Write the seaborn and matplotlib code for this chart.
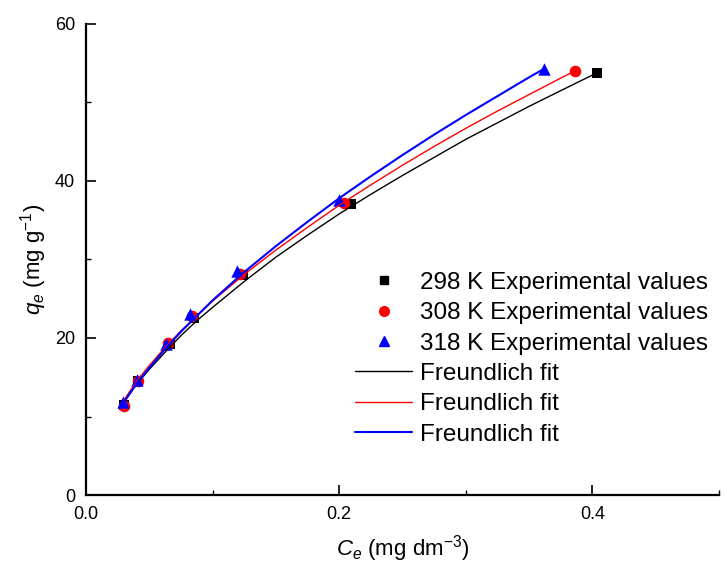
import pandas as pd
import seaborn as sns
import matplotlib.pyplot as plt
from matplotlib.lines import Line2D
from matplotlib.ticker import MultipleLocator

# Experimental points
ce_298 = [0.030, 0.041, 0.066, 0.085, 0.124, 0.209, 0.404]
qe_298 = [11.5, 14.5, 19.2, 22.6, 28.0, 37.1, 53.8]
ce_308 = [0.030, 0.041, 0.065, 0.084, 0.122, 0.204, 0.386]
qe_308 = [11.4, 14.5, 19.3, 22.8, 28.2, 37.2, 54.0]
ce_318 = [0.029, 0.040, 0.063, 0.082, 0.119, 0.200, 0.362]
qe_318 = [11.8, 14.6, 19.2, 23.0, 28.5, 37.6, 54.3]

# Freundlich fit curves
fit_x_298 = [0.030, 0.04, 0.05, 0.0625, 0.075, 0.0875, 0.10, 0.125, 0.15, 0.175,
             0.20, 0.225, 0.25, 0.275, 0.30, 0.325, 0.35, 0.375, 0.404]
fit_y_298 = [11.9, 14.1, 16.0, 18.2, 20.3, 22.2, 23.9, 27.2, 30.3, 33.1,
             35.8, 38.3, 40.7, 43.0, 45.3, 47.4, 49.5, 51.5, 53.8]
fit_x_308 = [0.030, 0.04, 0.05, 0.0625, 0.075, 0.0875, 0.10, 0.125, 0.15, 0.175,
             0.20, 0.225, 0.25, 0.275, 0.30, 0.325, 0.35, 0.375, 0.386]
fit_y_308 = [12.1, 14.5, 16.5, 18.8, 20.9, 22.8, 24.7, 28.1, 31.2, 34.1,
             36.9, 39.5, 42.0, 44.4, 46.7, 48.9, 51.0, 53.1, 54.0]
fit_x_318 = [0.029, 0.04, 0.05, 0.0625, 0.075, 0.0875, 0.10, 0.125, 0.15, 0.175,
             0.20, 0.225, 0.25, 0.275, 0.30, 0.325, 0.35, 0.362]
fit_y_318 = [11.6, 14.2, 16.2, 18.6, 20.8, 22.8, 24.8, 28.4, 31.7, 34.8,
             37.8, 40.6, 43.3, 45.9, 48.4, 50.8, 53.2, 54.3]

sns.set_style('ticks')
plt.rcParams['font.family'] = ['Liberation Sans', 'DejaVu Sans']
plt.rcParams['mathtext.fontset'] = 'custom'
plt.rcParams['mathtext.rm'] = 'Liberation Sans'
plt.rcParams['mathtext.it'] = 'Liberation Sans:italic'
plt.rcParams['text.color'] = 'black'
plt.rcParams['axes.labelcolor'] = 'black'
plt.rcParams['xtick.color'] = 'black'
plt.rcParams['ytick.color'] = 'black'
plt.rcParams['axes.edgecolor'] = 'black'

fig = plt.figure(figsize=(7.27, 5.69), dpi=100)
ax = fig.add_axes([0.1183, 0.130, 0.8707, 0.828])

series = [
    (ce_298, qe_298, fit_x_298, fit_y_298, 'black', 's', 55, 1.0),
    (ce_308, qe_308, fit_x_308, fit_y_308, 'red', 'o', 70, 1.0),
    (ce_318, qe_318, fit_x_318, fit_y_318, 'blue', '^', 80, 1.5),
]
for ce, qe, fx, fy, col, mk, sz, lw in series:
    pts = pd.DataFrame({'Ce': ce, 'qe': qe})
    fit = pd.DataFrame({'Ce': fx, 'qe': fy})
    sns.scatterplot(data=pts, x='Ce', y='qe', color=col, marker=mk, s=sz,
                    edgecolor=col, linewidth=0, ax=ax, legend=False)
    sns.lineplot(data=fit, x='Ce', y='qe', color=col, linewidth=lw,
                 sort=False, estimator=None, ax=ax, legend=False)

ax.set_xlim(0, 0.5)
ax.set_ylim(0, 60)
ax.xaxis.set_major_locator(MultipleLocator(0.2))
ax.xaxis.set_minor_locator(MultipleLocator(0.1))
ax.yaxis.set_major_locator(MultipleLocator(20))
ax.yaxis.set_minor_locator(MultipleLocator(10))
ax.set_xticks([0.0, 0.2, 0.4])
ax.set_xticklabels(['0.0', '0.2', '0.4'])
ax.tick_params(which='major', direction='in', length=7, width=1.2, labelsize=13, pad=8)
ax.tick_params(which='minor', direction='in', length=3.5, width=1.0)
sns.despine(ax=ax)
for sp in ['left', 'bottom']:
    ax.spines[sp].set_linewidth(1.6)

ax.set_xlabel(r'$C_e$ (mg dm$^{-3}$)', fontsize=16, labelpad=7)
ax.set_ylabel(r'$q_e$ (mg g$^{-1}$)', fontsize=16, labelpad=4)

handles = [
    Line2D([], [], color='black', marker='s', linestyle='none', markersize=6),
    Line2D([], [], color='red', marker='o', linestyle='none', markersize=7),
    Line2D([], [], color='blue', marker='^', linestyle='none', markersize=7),
    Line2D([], [], color='black', linewidth=1.0),
    Line2D([], [], color='red', linewidth=1.0),
    Line2D([], [], color='blue', linewidth=1.5),
]
labels = ['298 K Experimental values', '308 K Experimental values',
          '318 K Experimental values', 'Freundlich fit', 'Freundlich fit',
          'Freundlich fit']
ax.legend(handles, labels, loc='upper left', bbox_to_anchor=(0.425, 0.474),
          frameon=False, fontsize=17.5, handlelength=2.35, handletextpad=0.32,
          labelspacing=0.345, borderpad=0, borderaxespad=0)

fig.savefig('out.png', dpi=100)
